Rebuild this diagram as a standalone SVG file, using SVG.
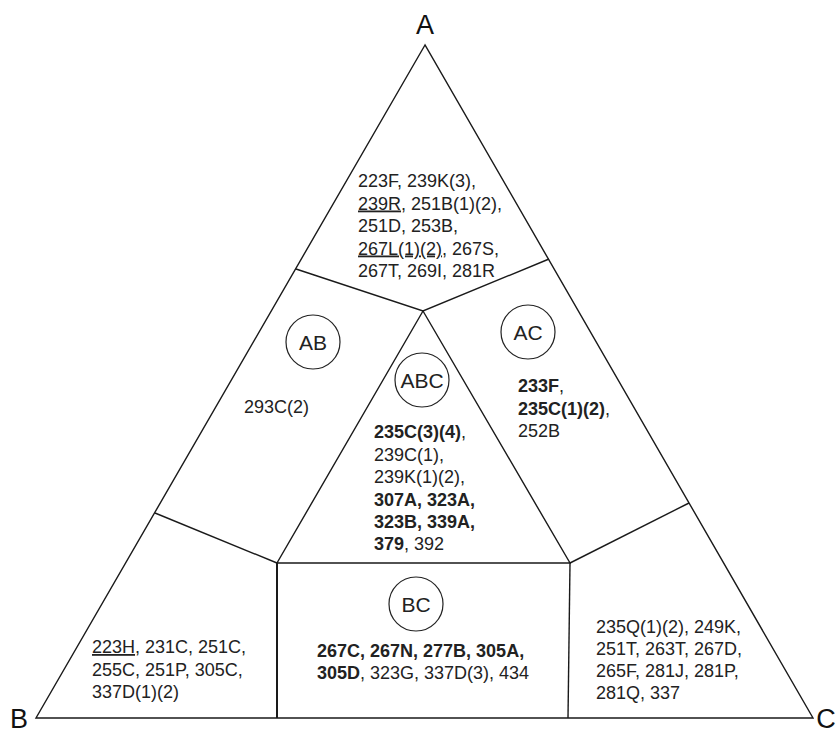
<svg xmlns="http://www.w3.org/2000/svg" width="838" height="735" viewBox="0 0 838 735">
<style>
  .t { font-family: "Liberation Sans", Arial, sans-serif; font-size: 18px; fill: #222; }
  .b { font-weight: bold; }
  .u { text-decoration: underline; }
  .lbl { font-family: "Liberation Sans", Arial, sans-serif; font-size: 21px; fill: #222; text-anchor: middle; }
  .vx { font-family: "Liberation Sans", Arial, sans-serif; font-size: 27px; fill: #111; text-anchor: middle; }
  .ln { stroke: #1a1a1a; stroke-width: 1.4; fill: none; stroke-linejoin: miter; }
  .circ { stroke: #222; stroke-width: 1.2; fill: none; }
</style>
<rect width="838" height="735" fill="#fff"/>
<g id="connectors">
  <polygon class="ln" points="425,45 36,718 813,718"/>
  <polyline class="ln" points="296,269 423,311 549,259"/>
  <polyline class="ln" points="423,311 277,563 570,563 423,311"/>
  <line class="ln" x1="155" y1="513" x2="277" y2="563"/>
  <line class="ln" x1="570" y1="563" x2="689" y2="503"/>
  <line class="ln" x1="277" y1="563" x2="277" y2="718" style="stroke-width:2"/>
  <line class="ln" x1="570" y1="563" x2="568" y2="718"/>
</g>
<g id="vertex-A"><text class="vx" x="425" y="34">A</text></g>
<g id="vertex-B"><text class="vx" x="19" y="728">B</text></g>
<g id="vertex-C"><text class="vx" x="826" y="728">C</text></g>
<g id="region-A">
  <text class="t" x="358" y="187">223F, 239K(3),</text>
  <text class="t" x="358" y="209.5"><tspan class="u">239R</tspan>, 251B(1)(2),</text>
  <text class="t" x="358" y="232">251D, 253B,</text>
  <text class="t" x="358" y="254.5"><tspan class="u">267L(1)(2)</tspan>, 267S,</text>
  <text class="t" x="358" y="277">267T, 269I, 281R</text>
</g>
<g id="region-AB">
  <circle class="circ" cx="313" cy="342" r="27"/>
  <text class="lbl" x="313" y="349.5">AB</text>
  <text class="t" x="244" y="413">293C(2)</text>
</g>
<g id="region-AC">
  <circle class="circ" cx="528" cy="332" r="27"/>
  <text class="lbl" x="528" y="339.5">AC</text>
  <text class="t" x="518" y="392"><tspan class="b">233F</tspan>,</text>
  <text class="t" x="518" y="414.5"><tspan class="b">235C(1)(2)</tspan>,</text>
  <text class="t" x="518" y="437">252B</text>
</g>
<g id="region-ABC">
  <circle class="circ" cx="422" cy="380" r="27"/>
  <text class="lbl" x="422" y="387.5">ABC</text>
  <text class="t" x="374" y="438"><tspan class="b">235C(3)(4)</tspan>,</text>
  <text class="t" x="374" y="460.5">239C(1),</text>
  <text class="t" x="374" y="483">239K(1)(2),</text>
  <text class="t b" x="374" y="505.5">307A, 323A,</text>
  <text class="t b" x="374" y="528">323B, 339A,</text>
  <text class="t" x="374" y="550"><tspan class="b">379</tspan>, 392</text>
</g>
<g id="region-B">
  <text class="t" x="92" y="653"><tspan class="u">223H</tspan>, 231C, 251C,</text>
  <text class="t" x="92" y="675.5">255C, 251P, 305C,</text>
  <text class="t" x="92" y="698">337D(1)(2)</text>
</g>
<g id="region-BC">
  <circle class="circ" cx="416" cy="604" r="27"/>
  <text class="lbl" x="416" y="611.5">BC</text>
  <text class="t b" x="317" y="657">267C, 267N, 277B, 305A,</text>
  <text class="t" x="317" y="678.5"><tspan class="b">305D</tspan>, 323G, 337D(3), 434</text>
</g>
<g id="region-C">
  <text class="t" x="596" y="633">235Q(1)(2), 249K,</text>
  <text class="t" x="596" y="655">251T, 263T, 267D,</text>
  <text class="t" x="596" y="677">265F, 281J, 281P,</text>
  <text class="t" x="596" y="699">281Q, 337</text>
</g>
</svg>
